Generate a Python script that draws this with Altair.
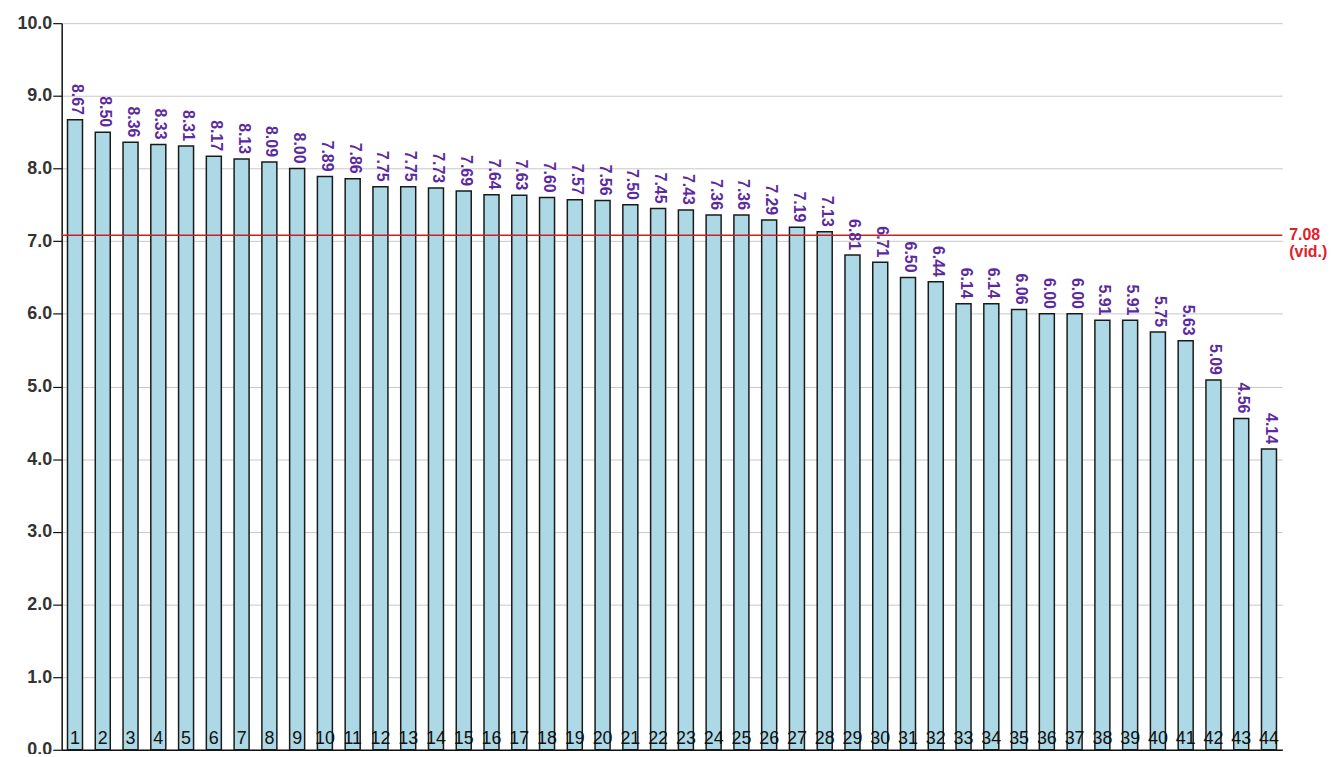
import altair as alt
import pandas as pd

ranks = list(range(1, 45))
scores = [8.67, 8.50, 8.36, 8.33, 8.31, 8.17, 8.13, 8.09, 8.00, 7.89,
          7.86, 7.75, 7.75, 7.73, 7.69, 7.64, 7.63, 7.60, 7.57, 7.56,
          7.50, 7.45, 7.43, 7.36, 7.36, 7.29, 7.19, 7.13, 6.81, 6.71,
          6.50, 6.44, 6.14, 6.14, 6.06, 6.00, 6.00, 5.91, 5.91, 5.75,
          5.63, 5.09, 4.56, 4.14]
average = 7.08
average_note = "(vid.)"
y_ticks = [0, 1, 2, 3, 4, 5, 6, 7, 8, 9, 10]

W = 1228
H = 731
FONT = "Liberation Sans"

df = pd.DataFrame({"rank": ranks, "score": scores})
avg_df = pd.DataFrame({"avg": [average], "label": [f"{average:.2f}\n{average_note}"]})

x_enc = alt.X(
    "rank:O",
    scale=alt.Scale(paddingInner=0.46, paddingOuter=0.21),
    axis=alt.Axis(labels=False, ticks=False, title=None, grid=False,
                  domainColor="#111", domainWidth=1.5),
)
y_scale = alt.Scale(domain=[0, 10], nice=False, zero=True)

base = alt.Chart(df)

bars = base.mark_bar(fill="#add8e6", stroke="#1a1a1a", strokeWidth=1.5).encode(
    x=x_enc,
    y=alt.Y(
        "score:Q",
        scale=y_scale,
        axis=alt.Axis(
            values=y_ticks, format=".1f", title=None,
            grid=True, gridColor="#c8c8c8", gridWidth=1,
            domainColor="#111", domainWidth=1.5,
            tickColor="#111", tickSize=9, tickWidth=1.2,
            labelFont=FONT, labelFontSize=18, labelFontWeight="bold",
            labelColor="#333", labelPadding=1,
        ),
    ),
)

value_labels = base.mark_text(
    angle=90, align="right", baseline="middle", dx=-5, dy=-2,
    font=FONT, fontSize=16, fontWeight="bold", color="#5b2a9e",
).encode(
    x="rank:O",
    y=alt.Y("score:Q", scale=y_scale),
    text=alt.Text("score:Q", format=".2f"),
)

rank_labels = base.mark_text(
    baseline="bottom", dy=-2, font=FONT, fontSize=18, color="#111",
).encode(
    x="rank:O",
    y=alt.datum(0),
    text=alt.Text("rank:O"),
)

avg_rule = alt.Chart(avg_df).mark_rule(color="#cc2020", strokeWidth=1.5).encode(
    y=alt.Y("avg:Q", scale=y_scale),
)

avg_label = alt.Chart(avg_df).mark_text(
    align="left", baseline="alphabetic", dy=5, dx=7, lineBreak="\n", lineHeight=17,
    font=FONT, fontSize=16, fontWeight="bold", color="#e0202a",
).encode(
    x=alt.value(W),
    y=alt.Y("avg:Q", scale=y_scale),
    text="label:N",
)

chart = alt.layer(bars, avg_rule, value_labels, rank_labels, avg_label).properties(
    width=W,
    height=H,
    autosize=alt.AutoSizeParams(type="none"),
    padding={"left": 54, "top": 13, "right": 51, "bottom": 2},
).configure_view(stroke=None)

chart.save("out.html", embed_options={"renderer": "svg", "actions": False})
